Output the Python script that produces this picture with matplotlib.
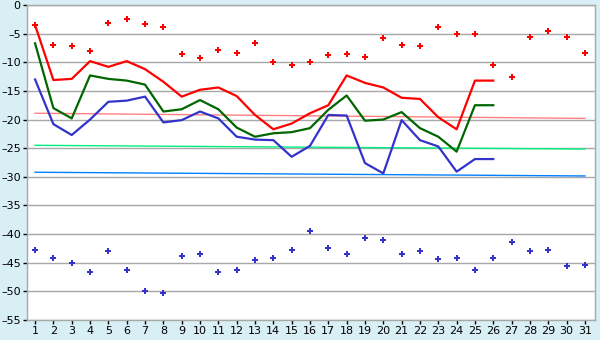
import matplotlib
matplotlib.use("Agg")
import matplotlib.pyplot as plt

# ===== Data =====
days = list(range(1, 32))
line_days = list(range(1, 27))

red_line = [-3.5, -13.1, -12.9, -9.8, -10.8, -9.8, -11.2, -13.4, -16.0, -14.8,
            -14.4, -15.9, -19.2, -21.7, -20.7, -18.9, -17.5, -12.3, -13.6, -14.4,
            -16.2, -16.4, -19.6, -21.7, -13.2, -13.2]
green_line = [-6.7, -18.0, -19.8, -12.3, -12.9, -13.2, -13.9, -18.6, -18.2, -16.6,
              -18.2, -21.4, -23.0, -22.4, -22.2, -21.5, -18.3, -15.8, -20.2, -20.0,
              -18.7, -21.5, -23.0, -25.6, -17.5, -17.5]
blue_line = [-13.0, -20.8, -22.7, -20.0, -16.9, -16.7, -16.0, -20.5, -20.1, -18.6,
             -19.8, -23.0, -23.5, -23.6, -26.5, -24.6, -19.2, -19.3, -27.6, -29.4,
             -20.1, -23.6, -24.7, -29.1, -26.9, -26.9]

red_points = [-3.5, -7.0, -7.2, -8.0, -3.2, -2.4, -3.3, -3.9, -8.6, -9.3,
              -7.9, -8.4, -6.7, -10.0, -10.4, -10.0, -8.8, -8.6, -9.0, -5.8,
              -7.0, -7.2, -3.9, -5.1, -5.0, -10.4, -12.5, -5.6, -4.6, -5.6, -8.4]
blue_points = [-42.8, -44.2, -45.1, -46.7, -43.0, -46.3, -50.0, -50.2, -43.9, -43.4,
               -46.7, -46.2, -44.6, -44.1, -42.8, -39.5, -42.5, -43.4, -40.6, -41.1,
               -43.5, -43.0, -44.4, -44.1, -46.2, -44.2, -41.4, -43.0, -42.8, -45.6, -45.4]

# trend lines: value at day 1 and day 31
pink_trend = [-18.9, -19.8]
lgreen_trend = [-24.5, -25.15]
lblue_trend = [-29.2, -29.85]
trend_days = [1, 31]

y_ticks = [0, -5, -10, -15, -20, -25, -30, -35, -40, -45, -50, -55]

# ===== Plot =====
bg = "#d9eff6"
fig = plt.figure(figsize=(6.0, 3.4), dpi=100, facecolor=bg)
ax = fig.add_axes([27 / 600, 20 / 340, 568 / 600, 315 / 340])
ax.set_facecolor("white")

for yt in y_ticks:
    ax.axhline(yt, color="#a8a8a8", lw=1.0, zorder=1)

ax.plot(trend_days, pink_trend, color="#ff8080", lw=1.0, zorder=2)
ax.plot(trend_days, lgreen_trend, color="#00ee80", lw=1.0, zorder=2)
ax.plot(trend_days, lblue_trend, color="#0080ff", lw=1.0, zorder=2)

ax.plot(line_days, red_line, color="#ff0000", lw=1.6, zorder=3)
ax.plot(line_days, green_line, color="#006600", lw=1.6, zorder=3)
ax.plot(line_days, blue_line, color="#3333cc", lw=1.6, zorder=3)

ax.plot(days, red_points, ls="none", marker="P", ms=4.5, color="#ff0000",
        mec="#ff0000", mew=0, zorder=4)
ax.plot(days, blue_points, ls="none", marker="P", ms=4.5, color="#3333cc",
        mec="#3333cc", mew=0, zorder=4)

ax.set_xlim(0.56, 31.55)
ax.set_ylim(-55, 0)
ax.set_xticks(days)
ax.set_yticks(y_ticks)
ax.set_yticklabels([str(v).replace("-", "\u2013") for v in y_ticks])

for s in ax.spines.values():
    s.set_color("#a8a8a8")
    s.set_linewidth(1.0)
ax.tick_params(axis="both", color="#000000", labelcolor="black",
               labelsize=8, length=3, width=1.0, pad=1.5)

fig.savefig("out.png", dpi=100, facecolor=bg)
